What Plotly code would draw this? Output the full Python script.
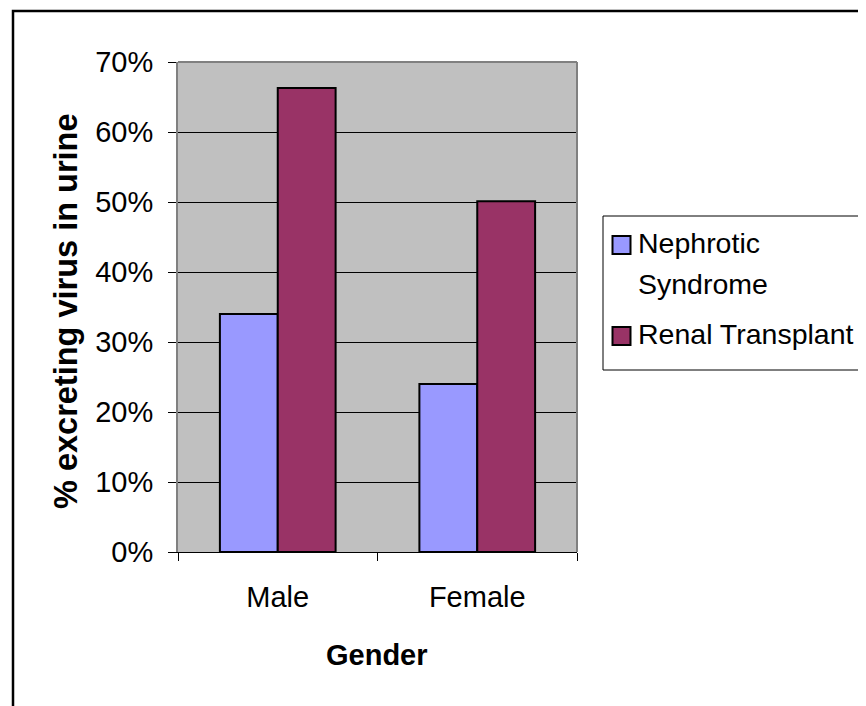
import plotly.graph_objects as go

categories = ["Male", "Female"]
series_names = ["Nephrotic Syndrome", "Renal Transplant"]
series_colors = ["#9999FF", "#993366"]
nephrotic = [0.34, 0.24]
renal = [0.663, 0.501]
y_ticks = [0, 0.1, 0.2, 0.3, 0.4, 0.5, 0.6, 0.7]
y_tick_labels = ["0%", "10%", "20%", "30%", "40%", "50%", "60%", "70%"]

FONT = "Liberation Sans, Arial, sans-serif"

fig = go.Figure()
for name, vals, col in zip(series_names, [nephrotic, renal], series_colors):
    fig.add_trace(go.Bar(x=categories, y=vals, name=name, showlegend=False,
                         marker=dict(color=col, line=dict(color="black", width=2))))

OFF = 8  # default page body margin
L, R, T, B = 178, 577, 62, 552  # plot area in reference page pixels
W, H = 866 - OFF, 706 - OFF
pw, ph = R - L, B - T

def px(x):
    return (x - L) / pw

def py(y):
    return (B - y) / ph

shapes = [
    # outer chart frame
    dict(type="rect", xref="paper", yref="paper",
         x0=px(13), x1=px(900), y0=py(760), y1=py(11),
         line=dict(color="black", width=2.5), fillcolor="rgba(0,0,0,0)"),
    # plot area right/top border
    dict(type="line", xref="paper", yref="paper", x0=1, x1=1, y0=0, y1=1,
         line=dict(color="#808080", width=2)),
    dict(type="line", xref="paper", yref="paper", x0=0, x1=1, y0=1, y1=1,
         line=dict(color="#808080", width=2)),
    # legend frame
    dict(type="rect", xref="paper", yref="paper",
         x0=px(603), x1=px(900), y0=py(370), y1=py(216),
         line=dict(color="black", width=1), fillcolor="rgba(0,0,0,0)"),
]

annotations = [
    dict(text="<b>% excreting virus in urine</b>", xref="paper", yref="paper",
         x=px(66), y=py(311), textangle=-90, showarrow=False,
         xanchor="center", yanchor="middle", font=dict(size=32.5)),
    dict(text="<b>Gender</b>", xref="paper", yref="paper",
         x=px(377), y=py(655), showarrow=False,
         xanchor="center", yanchor="middle", font=dict(size=29)),
]

# legend (manual, to match the original's larger swatches and line spacing)
legend_rows = [
    (series_names[0], series_colors[0], 245, ["Nephrotic", "Syndrome"]),
    (series_names[1], series_colors[1], 336, ["Renal Transplant"]),
]
line_y = {"Nephrotic": 243, "Syndrome": 284, "Renal Transplant": 334}
for name, col, sy, lines in legend_rows:
    shapes.append(dict(type="rect", xref="paper", yref="paper",
                       x0=px(612.5), x1=px(630.5), y0=py(sy + 9), y1=py(sy - 9),
                       line=dict(color="black", width=2), fillcolor=col))
    for ln in lines:
        annotations.append(dict(text=ln, xref="paper", yref="paper",
                                x=px(636), y=py(line_y[ln]), showarrow=False,
                                xanchor="left", yanchor="middle",
                                font=dict(size=28.5)))

fig.update_layout(
    width=W, height=H,
    margin=dict(l=L - OFF, r=(866 - R), t=T - OFF, b=(706 - B), pad=0, autoexpand=False),
    paper_bgcolor="white",
    plot_bgcolor="#C0C0C0",
    barmode="group", bargap=0.42, bargroupgap=0,
    font=dict(family=FONT, size=29, color="black"),
    showlegend=False,
    xaxis=dict(showgrid=False, ticks="outside", tickson="boundaries", ticklen=8,
               tickcolor="black", showline=True, linecolor="black", linewidth=1,
               tickfont=dict(size=29), ticklabelstandoff=19),
    yaxis=dict(range=[0, 0.7], tickvals=y_ticks, ticktext=y_tick_labels,
               showgrid=True, gridcolor="black", gridwidth=1,
               ticks="outside", ticklen=8, tickcolor="black",
               showline=True, linecolor="#808080", linewidth=2,
               tickfont=dict(size=29), zeroline=False, ticklabelstandoff=9),
    shapes=shapes,
    annotations=annotations,
)

fig.write_html("out.html")
